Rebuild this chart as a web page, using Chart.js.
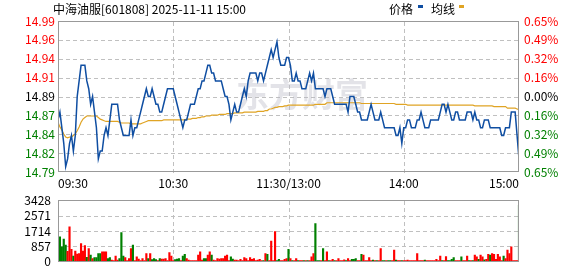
<!DOCTYPE html>
<html><head><meta charset="utf-8">
<script src="https://cdn.jsdelivr.net/npm/chart.js@4.4.1/dist/chart.umd.min.js"></script>
<style>
html,body{margin:0;padding:0;background:#fff;width:578px;height:276px;overflow:hidden;}
#c1{position:absolute;left:0;top:0;}
#c2{position:absolute;left:0;top:186px;}
</style></head><body>
<canvas id="c1" width="578" height="196"></canvas>
<canvas id="c2" width="578" height="90"></canvas>
<script>
// ---------- data ----------
const titleText = '中海油服[601808] 2025-11-11 15:00';
const legendPrice = '价格';
const legendAvg = '均线';
const watermarkText = '东方财富';
const preClose = 14.89;
const maxPct = 0.65;
const xTickPos = [0, 60, 120, 180, 240];
const xTickLabels = ['09:30', '10:30', '11:30/13:00', '14:00', '15:00'];
const priceTickLabels = ['14.79','14.82','14.84','14.87','14.89','14.91','14.94','14.96','14.99'];
const pctTickLabels = ['0.65%','0.49%','0.32%','0.16%','0.00%','0.16%','0.32%','0.49%','0.65%'];
const volTicks = [0, 857, 1714, 2571, 3428];
const volTickLabels = ['0', '857', '1714', '2571', '3428'];

const price = [
14.86,14.87,14.85,14.83,14.80,14.81,14.83,14.84,14.82,14.84,
14.89,14.91,14.93,14.93,14.93,14.91,14.90,14.88,14.89,14.87,
14.85,14.81,14.82,14.82,14.84,14.85,14.84,14.86,14.88,14.88,
14.88,14.88,14.86,14.85,14.84,14.84,14.84,14.84,14.86,14.84,
14.85,14.85,14.86,14.87,14.88,14.89,14.90,14.89,14.89,14.90,
14.89,14.88,14.88,14.87,14.87,14.88,14.89,14.90,14.90,14.90,
14.90,14.89,14.88,14.87,14.86,14.85,14.86,14.86,14.87,14.88,
14.88,14.88,14.89,14.90,14.90,14.91,14.91,14.92,14.93,14.93,
14.92,14.92,14.91,14.91,14.91,14.91,14.90,14.89,14.89,14.88,
14.86,14.87,14.88,14.87,14.87,14.88,14.89,14.90,14.89,14.91,
14.92,14.92,14.92,14.92,14.91,14.92,14.92,14.91,14.92,14.93,
14.94,14.95,14.94,14.95,14.96,14.94,14.93,14.93,14.93,14.94,
14.94,14.93,14.91,14.91,14.92,14.91,14.91,14.90,14.90,14.90,
14.91,14.92,14.91,14.92,14.90,14.90,14.90,14.90,14.90,14.89,
14.90,14.90,14.90,14.89,14.88,14.88,14.88,14.88,14.88,14.88,
14.88,14.87,14.89,14.89,14.89,14.88,14.87,14.87,14.86,14.86,
14.86,14.86,14.87,14.88,14.87,14.86,14.86,14.86,14.87,14.86,
14.85,14.85,14.85,14.85,14.85,14.85,14.84,14.84,14.85,14.83,
14.85,14.85,14.86,14.86,14.85,14.85,14.85,14.86,14.86,14.87,
14.86,14.85,14.85,14.85,14.86,14.86,14.86,14.86,14.86,14.87,
14.88,14.88,14.87,14.88,14.87,14.86,14.86,14.87,14.87,14.86,
14.86,14.86,14.86,14.87,14.87,14.87,14.86,14.87,14.86,14.86,
14.85,14.85,14.86,14.86,14.86,14.85,14.85,14.85,14.85,14.85,
14.85,14.84,14.84,14.85,14.85,14.85,14.87,14.87,14.87,14.84,
14.81
];

const avgPrice = [
14.857,14.851,14.847,14.842,14.838,14.837,14.838,14.838,14.840,14.842,
14.846,14.851,14.857,14.861,14.863,14.865,14.865,14.865,14.865,14.865,
14.865,14.863,14.861,14.860,14.859,14.858,14.858,14.858,14.858,14.858,
14.858,14.858,14.857,14.856,14.856,14.856,14.856,14.856,14.855,14.855,
14.855,14.855,14.855,14.855,14.856,14.857,14.858,14.859,14.859,14.859,
14.859,14.859,14.859,14.859,14.859,14.860,14.860,14.860,14.860,14.860,
14.860,14.860,14.860,14.860,14.860,14.860,14.860,14.861,14.861,14.861,
14.862,14.862,14.862,14.863,14.863,14.864,14.864,14.865,14.865,14.865,
14.866,14.866,14.866,14.866,14.867,14.867,14.867,14.867,14.868,14.868,
14.868,14.868,14.869,14.869,14.869,14.869,14.869,14.870,14.870,14.870,
14.870,14.870,14.870,14.870,14.871,14.871,14.871,14.871,14.872,14.872,
14.874,14.874,14.875,14.876,14.876,14.877,14.877,14.877,14.878,14.878,
14.879,14.879,14.879,14.879,14.879,14.879,14.879,14.879,14.879,14.879,
14.879,14.879,14.879,14.879,14.880,14.880,14.880,14.880,14.880,14.880,
14.882,14.882,14.882,14.882,14.882,14.882,14.882,14.882,14.882,14.882,
14.882,14.882,14.882,14.882,14.882,14.882,14.882,14.882,14.881,14.881,
14.881,14.881,14.881,14.881,14.881,14.881,14.881,14.881,14.881,14.881,
14.881,14.881,14.881,14.881,14.881,14.881,14.880,14.880,14.880,14.880,
14.880,14.880,14.879,14.879,14.879,14.879,14.879,14.879,14.879,14.879,
14.879,14.879,14.879,14.879,14.879,14.879,14.879,14.879,14.879,14.879,
14.879,14.879,14.879,14.879,14.879,14.879,14.879,14.879,14.879,14.879,
14.879,14.879,14.879,14.879,14.879,14.879,14.879,14.878,14.878,14.878,
14.878,14.878,14.878,14.878,14.878,14.878,14.878,14.877,14.877,14.877,
14.877,14.877,14.877,14.877,14.875,14.875,14.875,14.875,14.875,14.874,
14.873
];

const volume = [
0,
1390,834,1266,926,587,1945,695,324,602,432,
463,1019,602,896,247,741,371,185,232,232,
463,463,556,556,556,185,232,93,62,324,
93,185,1621,324,232,62,185,741,926,62,
278,154,62,185,62,463,185,463,124,185,
124,62,185,154,154,185,62,510,324,62,
124,154,185,62,324,417,185,93,62,62,
62,62,371,556,93,185,185,371,556,371,
93,62,185,154,185,185,324,371,62,278,
154,93,93,62,139,62,232,185,62,232,
139,185,62,93,139,62,62,463,417,62,
1158,62,1683,62,139,62,62,139,185,695,
185,62,62,185,62,62,62,62,62,62,
62,278,463,2131,62,62,62,741,62,556,
62,62,139,62,62,185,62,62,108,62,
185,62,139,139,185,62,62,417,371,62,
62,232,62,93,62,62,62,741,62,62,
62,62,62,62,648,93,62,62,62,62,
62,93,62,62,62,62,463,62,62,62,
93,62,62,62,62,62,139,62,324,62,
62,293,62,62,139,232,62,62,62,278,
62,62,324,62,62,62,371,278,139,371,
278,108,139,417,371,463,417,139,417,278,
62,324,185,648,463,834,62,62,62,3150
];

const volUp = [
1,
0,0,0,0,1,1,1,0,1,1,
1,1,1,1,0,1,0,1,0,0,
0,0,1,1,1,0,0,1,1,1,
1,0,0,0,1,1,1,1,0,1,
1,1,1,1,1,1,0,1,0,0,
0,1,0,1,1,1,1,1,1,1,
0,0,0,1,0,0,1,1,1,1,
1,1,1,1,1,0,0,1,1,0,
1,1,1,1,1,1,1,1,1,0,
0,1,1,1,1,1,1,1,1,1,
1,1,1,1,1,1,0,1,0,1,
1,1,1,0,0,1,1,1,1,0,
1,0,1,1,0,1,1,0,1,0,
1,1,1,0,0,0,1,0,1,1,
0,1,1,0,1,1,1,1,1,0,
1,1,0,0,0,1,1,0,1,1,
1,1,1,0,1,0,1,1,0,0,
1,0,0,1,1,0,1,1,0,1,
1,1,1,1,1,1,1,1,1,1,
0,1,1,1,1,1,1,1,1,0,
1,1,0,0,0,0,1,1,1,0,
1,1,1,0,1,0,1,1,0,1,
1,0,1,1,0,1,1,1,1,1,
1,0,1,1,1,1,1,1,1,0
];

// ---------- styles ----------
const FONT = '"Noto Sans CJK SC", "Noto Sans", sans-serif';
const RED = '#ff0000', GREEN = '#008000';
const GRID = '#c0c0c0';
const PRICE_COLOR = '#0f4ea2', AVG_COLOR = '#e0a424';
Chart.defaults.font.family = FONT;
Chart.defaults.font.size = 12;
Chart.defaults.color = '#000';

const range = preClose * maxPct / 100;
const levelColor = k => k > 4 ? RED : (k < 4 ? GREEN : '#000');
const priceTickValues = priceTickLabels.map((_, k) => preClose - range + k * range / 4);
const pctTickValues = pctTickLabels.map((_, k) => -maxPct + k * maxPct / 4);

function drawDashedGrid(chart, xValues, yValues) {
  const c = chart.ctx, a = chart.chartArea;
  const xs = chart.scales.x, ys = chart.scales.y;
  const DASH = 4, GAP = 3;
  c.save();
  c.fillStyle = GRID;
  xValues.forEach(v => {
    const px = Math.round(xs.getPixelForValue(v));
    for (let y = Math.round(a.top) + 1; y < a.bottom - 1; y += DASH + GAP) {
      c.fillRect(px, y, 1, DASH);
    }
  });
  yValues.forEach(v => {
    const py = Math.round(ys.getPixelForValue(v));
    for (let x = Math.round(a.left) + 1; x < a.right - 1; x += DASH + GAP) {
      c.fillRect(x, py, DASH, 1);
    }
  });
  c.restore();
}

function drawFrame(chart) {
  const a = chart.chartArea, c = chart.ctx;
  c.save();
  c.fillStyle = '#999';
  const l = Math.round(a.left), r = Math.round(a.right) - 1, t = Math.round(a.top), b = Math.round(a.bottom) - 1;
  c.fillRect(l, t, r - l + 1, 1);
  c.fillRect(l, b, r - l + 1, 1);
  c.fillRect(l, t, 1, b - t + 1);
  c.fillRect(r, t, 1, b - t + 1);
  c.restore();
}

const mainDecor = {
  id: 'mainDecor',
  beforeDatasetsDraw(chart) {
    drawDashedGrid(chart, xTickPos.slice(1, -1), priceTickValues.slice(1, -1));
    const c = chart.ctx;
    c.save();
    c.font = 'bold 33px ' + FONT;
    c.fillStyle = 'rgba(185,185,198,0.4)';
    c.textBaseline = 'alphabetic';
    c.textAlign = 'left';
    c.fillText(watermarkText, 236, 107);
    c.restore();
  },
  afterDraw(chart) {
    drawFrame(chart);
    const c = chart.ctx;
    c.save();
    c.font = '12px ' + FONT;
    c.fillStyle = '#000';
    c.textBaseline = 'middle';
    c.textAlign = 'left';
    c.fillText(titleText, 53, 9);
    c.fillText(legendPrice, 389, 9);
    c.fillStyle = PRICE_COLOR;
    c.fillRect(418, 5, 5, 3);
    c.fillStyle = '#000';
    c.fillText(legendAvg, 431, 9);
    c.fillStyle = AVG_COLOR;
    c.fillRect(459, 5, 5, 3);
    c.restore();
  }
};

const volDecor = {
  id: 'volDecor',
  beforeDatasetsDraw(chart) {
    drawDashedGrid(chart, xTickPos.slice(1, -1), volTicks.slice(1, -1));
  },
  afterDraw(chart) {
    drawFrame(chart);
  }
};

new Chart(document.getElementById('c1'), {
  type: 'line',
  data: {
    datasets: [
      { data: price.map((y, i) => ({ x: i, y })), borderColor: PRICE_COLOR, borderWidth: 1.5, pointRadius: 0, yAxisID: 'y', tension: 0 },
      { data: avgPrice.map((y, i) => ({ x: i, y })), borderColor: AVG_COLOR, borderWidth: 1.2, pointRadius: 0, yAxisID: 'y', tension: 0 }
    ]
  },
  options: {
    responsive: false, animation: false, devicePixelRatio: 1,
    layout: { padding: { top: 21, left: 0, right: 0, bottom: 0 } },
    plugins: { legend: { display: false }, tooltip: { enabled: false } },
    scales: {
      x: {
        type: 'linear', min: 0, max: 240,
        afterBuildTicks: s => { s.ticks = xTickPos.map(v => ({ value: v })); },
        afterFit: s => { s.height = 24; },
        ticks: { callback: (v, i) => xTickLabels[i], align: 'inner', maxRotation: 0, autoSkip: false, padding: 4, color: '#000' },
        grid: { display: false, drawTicks: false },
        border: { display: false }
      },
      y: {
        position: 'left', min: preClose - range, max: preClose + range,
        afterBuildTicks: s => { s.ticks = priceTickValues.map(v => ({ value: v })); },
        afterFit: s => { s.width = 58; },
        ticks: { callback: (v, i) => priceTickLabels[i], color: ctx => levelColor(ctx.index), padding: 3, autoSkip: false },
        grid: { display: false, drawTicks: false },
        border: { display: false }
      },
      y1: {
        position: 'right', min: -maxPct, max: maxPct,
        afterBuildTicks: s => { s.ticks = pctTickValues.map(v => ({ value: v })); },
        afterFit: s => { s.width = 59; },
        ticks: { callback: (v, i) => pctTickLabels[i], color: ctx => levelColor(ctx.index), padding: 5, autoSkip: false },
        grid: { display: false, drawTicks: false },
        border: { display: false }
      }
    }
  },
  plugins: [mainDecor]
});

new Chart(document.getElementById('c2'), {
  type: 'bar',
  data: {
    datasets: [{
      data: volume.map((y, i) => ({ x: i, y })),
      backgroundColor: volUp.map(u => u ? RED : GREEN),
      borderWidth: 0, barThickness: 1.5
    }]
  },
  options: {
    responsive: false, animation: false, devicePixelRatio: 1,
    layout: { padding: { top: 10, left: 0, right: 59, bottom: 5 } },
    plugins: { legend: { display: false }, tooltip: { enabled: false } },
    scales: {
      x: {
        type: 'linear', min: 0, max: 240, offset: false,
        afterBuildTicks: s => { s.ticks = xTickPos.map(v => ({ value: v })); },
        afterFit: s => { s.height = 0; },
        ticks: { display: false },
        grid: { display: false, drawTicks: false, offset: false },
        border: { display: false }
      },
      y: {
        position: 'left', min: volTicks[0], max: volTicks[volTicks.length - 1],
        afterBuildTicks: s => { s.ticks = volTicks.map(v => ({ value: v })); },
        afterFit: s => { s.width = 58; },
        ticks: { callback: (v, i) => volTickLabels[i], color: '#000', padding: 7, autoSkip: false },
        grid: { display: false, drawTicks: false },
        border: { display: false }
      }
    }
  },
  plugins: [volDecor]
});
</script>
</body></html>
